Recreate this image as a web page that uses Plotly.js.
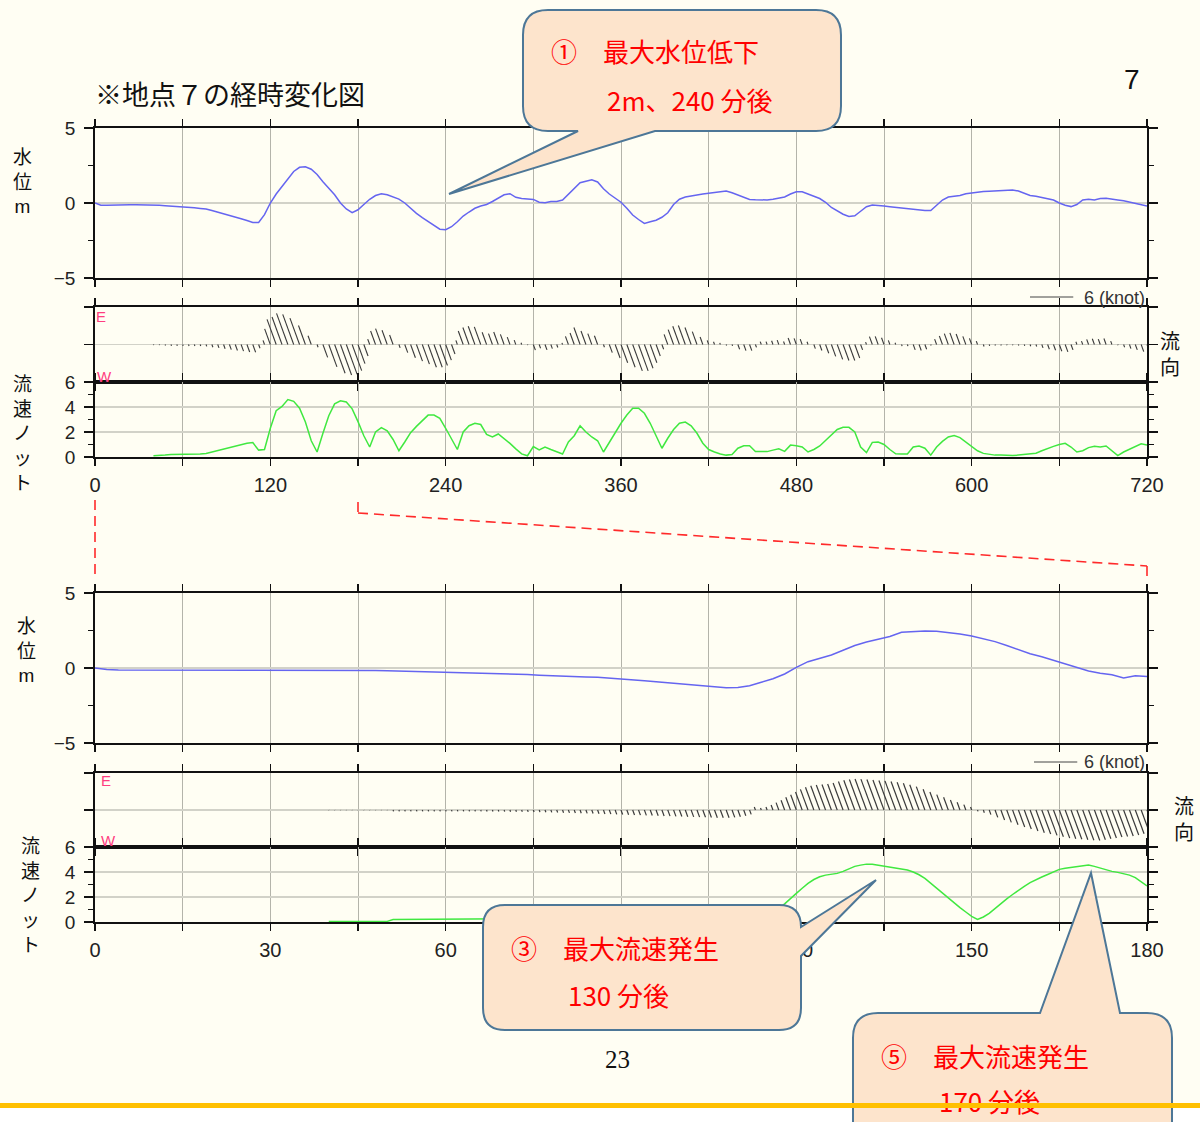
<!DOCTYPE html>
<html><head><meta charset="utf-8">
<script src="https://cdn.plot.ly/plotly-3.0.1.min.js"></script>
<style>html,body{margin:0;padding:0;background:#fffef3;}#chart{width:1200px;height:1122px;}</style>
</head><body><div id="chart"></div>
<script>
// ---------------- DATA ----------------
// Upper set: 0-720 min. Water level (m), every 4 min from 0.
const topLevelStart = 0, topLevelStep = 4;
const topLevel = [
 0.00,-0.15,-0.15,-0.13,-0.12,-0.11,-0.11,-0.11,-0.11,-0.12,
 -0.13,-0.15,-0.18,-0.20,-0.23,-0.25,-0.28,-0.32,-0.36,-0.40,
 -0.50,-0.60,-0.70,-0.80,-0.92,-1.05,-1.17,-1.30,-1.30,-0.78,
 0.00,0.60,1.10,1.64,2.10,2.38,2.42,2.25,1.90,1.42,
 0.95,0.55,0.00,-0.40,-0.64,-0.45,-0.10,0.25,0.50,0.62,
 0.55,0.42,0.26,0.00,-0.35,-0.69,-0.98,-1.25,-1.50,-1.75,
 -1.78,-1.58,-1.25,-0.87,-0.60,-0.35,-0.20,-0.10,0.10,0.35,
 0.55,0.62,0.38,0.30,0.25,0.24,0.05,0.02,0.10,0.10,
 0.20,0.60,1.00,1.35,1.45,1.55,1.40,0.95,0.60,0.30,
 0.05,-0.35,-0.80,-1.10,-1.36,-1.25,-1.15,-0.95,-0.65,-0.10,
 0.25,0.40,0.48,0.55,0.60,0.65,0.70,0.78,0.80,0.68,
 0.55,0.40,0.24,0.22,0.20,0.20,0.25,0.32,0.40,0.60,
 0.75,0.75,0.62,0.45,0.30,0.05,-0.30,-0.55,-0.75,-0.90,
 -0.85,-0.55,-0.25,-0.13,-0.15,-0.20,-0.25,-0.30,-0.33,-0.38,
 -0.42,-0.45,-0.50,-0.50,-0.15,0.20,0.40,0.45,0.50,0.62,
 0.68,0.72,0.76,0.78,0.80,0.80,0.84,0.87,0.80,0.65,
 0.50,0.45,0.38,0.30,0.20,0.00,-0.15,-0.24,-0.10,0.20,
 0.25,0.20,0.30,0.31,0.28,0.20,0.15,0.05,-0.05,-0.15,
 -0.20
];
// Current speed (knot), every 4 min from 40.
const topSpeedStart = 40, topSpeedStep = 4;
const topSpeed = [
 0.10,0.10,0.15,0.20,0.20,0.20,0.22,0.22,0.23,0.28,
 0.40,0.50,0.62,0.75,0.88,0.98,1.10,1.15,0.55,0.60,
 2.30,3.70,4.05,4.60,4.45,3.90,2.80,1.30,0.40,1.90,
 3.30,4.25,4.50,4.40,3.85,2.83,1.70,0.80,2.00,2.35,
 2.10,1.40,0.50,1.20,1.95,2.45,2.90,3.35,3.35,3.09,
 2.30,1.40,0.60,2.00,2.50,2.70,2.60,1.80,1.60,1.84,
 1.50,1.09,0.65,0.25,0.10,0.83,0.56,0.80,0.60,0.45,
 0.24,1.20,1.70,2.50,2.00,1.60,1.30,0.40,1.20,2.00,
 2.70,3.36,3.90,3.90,3.50,2.70,1.70,0.70,1.50,2.20,
 2.70,2.80,2.50,1.90,1.10,0.60,0.40,0.24,0.15,0.20,
 0.70,0.90,0.90,0.43,0.43,0.43,0.55,0.65,0.45,0.95,
 0.90,0.80,0.40,0.60,0.88,1.30,1.75,2.20,2.37,2.37,
 2.00,0.80,0.35,1.17,1.20,1.00,0.60,0.25,0.24,0.24,
 0.80,0.88,0.70,0.15,0.80,1.25,1.60,1.71,1.55,1.20,
 0.90,0.50,0.29,0.20,0.15,0.15,0.12,0.11,0.15,0.20,
 0.25,0.30,0.50,0.70,0.85,1.00,1.09,0.80,0.40,0.50,
 0.75,0.85,0.80,0.88,0.50,0.11,0.40,0.60,0.80,1.05,
 0.96
];
// Time spans (min) when the current flows toward E; other times it flows toward W.
const eastSpans = [[113,151],[187,207],[247,294],[320,347],[389,432],[456,491],[525,549],[574,606],[672,700]];

// Lower set: 0-180 min. Water level (m), every 2 min from 0.
const botLevelStart = 0, botLevelStep = 2;
const botLevel = [
 0.00,-0.10,-0.13,-0.13,-0.13,-0.13,-0.13,-0.13,-0.13,-0.12,
 -0.12,-0.12,-0.12,-0.12,-0.12,-0.12,-0.12,-0.12,-0.12,-0.13,
 -0.13,-0.14,-0.15,-0.16,-0.17,-0.18,-0.20,-0.21,-0.23,-0.25,
 -0.27,-0.29,-0.31,-0.33,-0.35,-0.37,-0.40,-0.44,-0.48,-0.52,
 -0.55,-0.58,-0.60,-0.62,-0.67,-0.71,-0.78,-0.85,-0.92,-0.99,
 -1.06,-1.13,-1.20,-1.27,-1.31,-1.30,-1.18,-0.95,-0.72,-0.40,
 0.04,0.42,0.65,0.87,1.18,1.50,1.73,1.90,2.10,2.38,
 2.44,2.47,2.45,2.38,2.27,2.13,1.95,1.76,1.50,1.20,
 0.95,0.75,0.50,0.25,0.00,-0.20,-0.35,-0.45,-0.67,-0.51,
 -0.56
];
// Current speed (knot), every 1 min from 40.
const botSpeedStart = 40, botSpeedStep = 1;
const botSpeed = [
 0.05,0.05,0.05,0.05,0.05,0.05,0.05,0.05,0.05,0.05,
 0.05,0.20,0.20,0.20,0.20,0.20,0.20,0.20,0.20,0.20,
 0.20,0.20,0.20,0.20,0.20,0.20,0.21,0.22,0.22,0.23,
 0.24,0.25,0.26,0.27,0.28,0.30,0.32,0.34,0.36,0.38,
 0.40,0.43,0.46,0.48,0.50,0.53,0.56,0.59,0.62,0.65,
 0.68,0.71,0.74,0.77,0.80,0.83,0.86,0.89,0.92,0.95,
 0.98,1.00,1.03,1.06,1.09,1.12,1.15,1.16,1.15,1.10,
 1.00,0.85,0.65,0.45,0.30,0.45,0.75,1.10,1.45,1.90,
 2.29,2.70,3.09,3.40,3.62,3.75,3.82,3.89,4.05,4.25,
 4.45,4.55,4.63,4.62,4.55,4.48,4.42,4.35,4.25,4.16,
 4.00,3.78,3.49,3.10,2.70,2.30,1.90,1.50,1.15,0.80,
 0.45,0.21,0.40,0.69,1.10,1.50,1.85,2.20,2.55,2.85,
 3.15,3.40,3.60,3.80,4.00,4.21,4.30,4.38,4.45,4.52,
 4.56,4.45,4.30,4.18,4.05,3.97,3.89,3.75,3.55,3.25,
 2.88
];

// Tick values / labels
const topXTicks  = [0,60,120,180,240,300,360,420,480,540,600,660,720];
const topXLabels = ['0','','120','','240','','360','','480','','600','','720'];
const botXTicks  = [0,15,30,45,60,75,90,105,120,135,150,165,180];
const botXLabels = ['0','','30','','60','','90','','120','','150','','180'];
const levelTicks  = [-5,0,5];
const levelLabels = ['\u22125','0','5'];
const speedTicks  = [0,2,4,6];
const speedLabels = ['0','2','4','6'];
const vecRange = 5.2;           // knots, half height of the direction panel
const knotScale = 6;            // scale bar value (knot)

// ---------------- LAYOUT HELPERS ----------------
const W=1200, H=1122, X0=95, X1=1147;
const PX = x => x/W, PY = y => 1 - y/H;
const JP = "Noto Sans CJK JP, Noto Sans, sans-serif";
const LAT = "Liberation Sans, Arial, sans-serif";
const BG = '#fffef3', BLUE = '#6565f0', GREEN = '#40e840', STICK = '#3a3a3a';
const GRIDV = '#b4b4aa', GRIDH = '#d2d2c8';
const TILT = 20*Math.PI/180;
const pxPerKnot = 75/(2*vecRange);

const times = (start, step, n) => Array.from({length:n}, (_, i) => start + i*step);
const isEast = t => eastSpans.some(s => t >= s[0] && t < s[1]);

function sticks(ts, sp, minPerPx) {
  const xs=[], ys=[];
  const mpk = pxPerKnot*minPerPx;
  ts.forEach((t,i) => {
    const sg = isEast(t) ? 1 : -1, v = sp[i];
    xs.push(t, t - sg*v*Math.sin(TILT)*mpk, null);
    ys.push(0, sg*v*Math.cos(TILT), null);
  });
  return {xs, ys};
}

const tLT = times(topLevelStart, topLevelStep, topLevel.length);
const tST = times(topSpeedStart, topSpeedStep, topSpeed.length);
const tLB = times(botLevelStart, botLevelStep, botLevel.length);
const tSB = times(botSpeedStart, botSpeedStep, botSpeed.length);
const stT = sticks(tST, topSpeed, 720/(X1-X0));
const stB = sticks(tSB, botSpeed, 180/(X1-X0));

const traces = [
  {x:tLT, y:topLevel, xaxis:'x', yaxis:'y', mode:'lines', line:{color:BLUE, width:1.5}, hoverinfo:'skip'},
  {x:stT.xs, y:stT.ys, xaxis:'x2', yaxis:'y2', mode:'lines', line:{color:STICK, width:1.1}, hoverinfo:'skip', connectgaps:false},
  {x:tST, y:topSpeed, xaxis:'x3', yaxis:'y3', mode:'lines', line:{color:GREEN, width:1.5}, hoverinfo:'skip'},
  {x:tLB, y:botLevel, xaxis:'x4', yaxis:'y4', mode:'lines', line:{color:BLUE, width:1.5}, hoverinfo:'skip'},
  {x:stB.xs, y:stB.ys, xaxis:'x5', yaxis:'y5', mode:'lines', line:{color:STICK, width:1.2}, hoverinfo:'skip', connectgaps:false},
  {x:tSB, y:botSpeed, xaxis:'x6', yaxis:'y6', mode:'lines', line:{color:GREEN, width:1.5}, hoverinfo:'skip'}
];

function xa(range, tv, tt, show, anchor) {
  return {domain:[PX(X0),PX(X1)], range, anchor, tickmode:'array', tickvals:tv, ticktext:tt,
    showticklabels:show, ticks:'outside', ticklen:7, tickwidth:1.3, tickcolor:'#111',
    showline:true, linewidth:1.8, linecolor:'#111', mirror:'allticks',
    showgrid:true, gridcolor:GRIDV, gridwidth:1, zeroline:false, fixedrange:true,
    tickfont:{family:LAT, size:20, color:'#222'}, ticklabelstandoff:2};
}
function ya(dom, range, tv, tt, show, anchor, minorDt) {
  const a = {domain:dom, range, anchor, tickmode:'array', tickvals:tv, ticktext:tt,
    showticklabels:show, ticks:'outside', ticklen:9, tickwidth:1.3, tickcolor:'#111',
    showline:true, linewidth:1.8, linecolor:'#111', mirror:'allticks',
    showgrid:true, gridcolor:GRIDH, gridwidth:1.3, zeroline:false, fixedrange:true,
    tickfont:{family:LAT, size:19, color:'#222'}, ticklabelstandoff:5};
  if (minorDt) a.minor = {tickmode:'linear', tick0:0, dtick:minorDt, ticks:'outside', ticklen:5, tickwidth:1, tickcolor:'#111', showgrid:false};
  return a;
}
const vecTicks = [-vecRange, 0, vecRange];

const f = (x,y) => PX(x).toFixed(5)+','+PY(y).toFixed(5);
const callout1 = `M${f(548,10)} L${f(816,10)} Q${f(841,10)} ${f(841,35)} L${f(841,106)} Q${f(841,131)} ${f(816,131)} L${f(655,131)} L${f(449,194)} L${f(578,131)} L${f(548,131)} Q${f(523,131)} ${f(523,106)} L${f(523,35)} Q${f(523,10)} ${f(548,10)} Z`;
const callout3 = `M${f(505,905)} L${f(779,905)} Q${f(801,905)} ${f(801,927)} L${f(876,880)} L${f(801,956)} L${f(801,1008)} Q${f(801,1030)} ${f(779,1030)} L${f(505,1030)} Q${f(483,1030)} ${f(483,1008)} L${f(483,927)} Q${f(483,905)} ${f(505,905)} Z`;
const callout5 = `M${f(878,1013)} L${f(1040,1013)} L${f(1091,873)} L${f(1120,1013)} L${f(1147,1013)} Q${f(1172,1013)} ${f(1172,1038)} L${f(1172,1160)} L${f(853,1160)} L${f(853,1038)} Q${f(853,1013)} ${f(878,1013)} Z`;
const CFILL = '#fde4cc', CLINE = '#4d7797';

const pline = (x0,y0,x1,y1,line,layer) => ({type:'line', xref:'paper', yref:'paper', x0:PX(x0), y0:PY(y0), x1:PX(x1), y1:PY(y1), line, layer:layer||'above'});
const RED_DASH = {color:'#ff2a2a', width:1.6, dash:'10px,6px'};

const shapes = [
  {type:'rect', xref:'paper', yref:'paper', x0:0, x1:1, y0:PY(1122), y1:PY(1107), fillcolor:'#ffffff', line:{width:0}, layer:'below'},
  pline(95,500,95,580,RED_DASH),
  pline(358,502,358,513,RED_DASH),
  pline(358,513,1147,566,RED_DASH),
  pline(1147,566,1147,578,RED_DASH),
  pline(1030,297,1030+knotScale*pxPerKnot,297,{color:'#444',width:1}),
  pline(1034,762,1034+knotScale*pxPerKnot,762,{color:'#444',width:1}),
  {type:'path', xref:'paper', yref:'paper', path:callout1, fillcolor:CFILL, line:{color:CLINE, width:2}, layer:'above'},
  {type:'path', xref:'paper', yref:'paper', path:callout3, fillcolor:CFILL, line:{color:CLINE, width:2}, layer:'above'},
  {type:'path', xref:'paper', yref:'paper', path:callout5, fillcolor:CFILL, line:{color:CLINE, width:2}, layer:'above'},
  {type:'rect', xref:'paper', yref:'paper', x0:0, x1:1, y0:PY(1108), y1:PY(1103), fillcolor:'#ffc000', line:{width:0}, layer:'above'}
];

const ann = [];
const A = (text, x, y, size, opt) => ann.push(Object.assign({text, xref:'paper', yref:'paper', x:PX(x), y:PY(y), xanchor:'center', yanchor:'middle', showarrow:false, font:{family:JP, size, color:'#111'}}, opt||{}));
A('※地点７の経時変化図', 93, 93, 27, {xanchor:'left'});
A('7', 1132, 79, 28, {font:{family:LAT, size:28, color:'#111'}});
A('23', 617, 1059, 25, {font:{family:"Liberation Serif, DejaVu Serif, serif", size:25, color:'#111'}});
// vertical axis labels, stacked one character per line
const M = '<span style="font-family:Liberation Sans, Arial, sans-serif">m</span>';
A('水<br>位<br>'+M, 22, 179, 19);
A('水<br>位<br>'+M, 26, 648, 19);
A('流<br>速<br>ノ<br>ッ<br>ト', 22, 432, 19);
A('流<br>速<br>ノ<br>ッ<br>ト', 30, 894, 19);
A('流<br>向', 1170, 353, 20);
A('流<br>向', 1184, 818, 20);
// E / W markers
const EW = {font:{family:LAT, size:15, color:'#ff3d80'}};
A('E', 101, 316, 15, EW); A('W', 104, 376, 15, EW);
A('E', 106, 780, 15, EW); A('W', 108, 840, 15, EW);
// scale bar labels
const KN = {xanchor:'right', font:{family:LAT, size:18, color:'#333'}};
A('6 (knot)', 1147, 298, 18, KN);
A('6 (knot)', 1147, 762, 18, KN);
// callout texts
const CT = s => ({xanchor:'left', font:{family:JP, size:s, color:'#ff0000'}});
A('①　最大水位低下', 549, 51, 26, CT(26));
A('2m、240 分後', 605, 100, 26, CT(26));
A('③　最大流速発生', 509, 947, 26, CT(26));
A('130 分後', 566, 994, 26, CT(26));
A('⑤　最大流速発生', 879, 1055, 26, CT(26));
A('170 分後', 937, 1100, 26, CT(26));
// orange rule drawn over the last callout text
ann.push({text:' ', xref:'paper', yref:'paper', x:0.5, y:PY(1105.5), xanchor:'center', yanchor:'middle', showarrow:false, width:1200, height:5, bgcolor:'#ffc000', borderpad:0, borderwidth:0, font:{size:2, color:'#ffc000'}});

const layout = {
  width:W, height:H, margin:{l:0,r:0,t:0,b:0}, paper_bgcolor:BG, plot_bgcolor:'rgba(0,0,0,0)',
  showlegend:false, font:{family:LAT, color:'#222'},
  xaxis:  xa([0,720], topXTicks, topXLabels, false, 'y'),
  yaxis:  ya([PY(278),PY(128)], [-5,5], levelTicks, levelLabels, true, 'x', 2.5),
  xaxis2: xa([0,720], topXTicks, topXLabels, false, 'y2'),
  yaxis2: ya([PY(382),PY(307)], [-vecRange,vecRange], vecTicks, ['','',''], false, 'x2'),
  xaxis3: xa([0,720], topXTicks, topXLabels, true, 'y3'),
  yaxis3: ya([PY(457),PY(382)], [0,6], speedTicks, speedLabels, true, 'x3', 1),
  xaxis4: xa([0,180], botXTicks, botXLabels, false, 'y4'),
  yaxis4: ya([PY(743),PY(593)], [-5,5], levelTicks, levelLabels, true, 'x4', 2.5),
  xaxis5: xa([0,180], botXTicks, botXLabels, false, 'y5'),
  yaxis5: ya([PY(847),PY(773)], [-vecRange,vecRange], vecTicks, ['','',''], false, 'x5'),
  xaxis6: xa([0,180], botXTicks, botXLabels, true, 'y6'),
  yaxis6: ya([PY(922),PY(847)], [0,6], speedTicks, speedLabels, true, 'x6', 1),
  shapes, annotations: ann
};
Plotly.newPlot('chart', traces, layout, {displayModeBar:false, staticPlot:true});
</script></body></html>
